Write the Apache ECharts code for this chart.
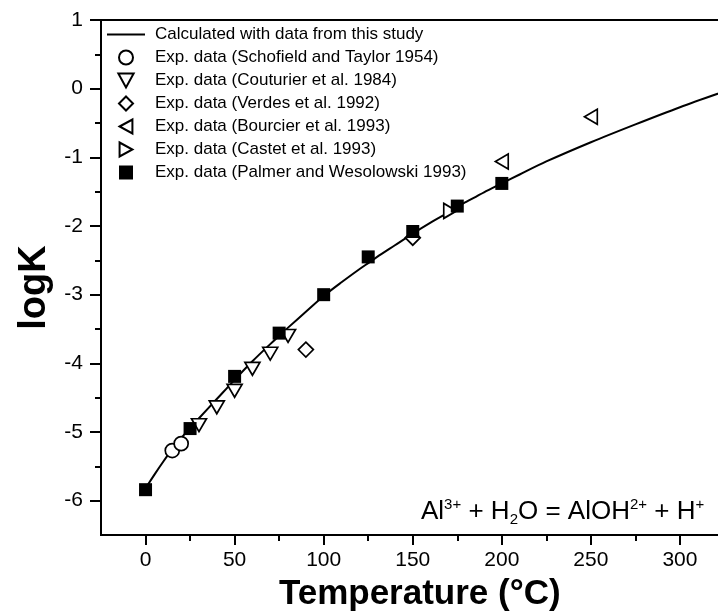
<!DOCTYPE html>
<html>
<head>
<meta charset="utf-8">
<script src="https://cdn.jsdelivr.net/npm/echarts@6/dist/echarts.min.js"></script>
<style>
html,body{margin:0;padding:0;background:#fff;}
#chart{width:718px;height:612px;}
</style>
</head>
<body>
<div id="chart"></div>
<script>
// ---- data ----
const xTickValues = [0, 50, 100, 150, 200, 250, 300];
const xMinorTicks = [25, 75, 125, 175, 225, 275];
const yTickValues = [-6, -5, -4, -3, -2, -1, 0, 1];
const yMinorTicks = [-5.5, -4.5, -3.5, -2.5, -1.5, -0.5, 0.5];

const calcT    = [0, 5, 10, 15, 20, 25, 30, 40, 50, 60, 70, 75, 80, 90, 100, 110, 120, 125, 130, 140, 150, 160, 170, 175, 180, 190, 200, 210, 225, 250, 275, 300, 325];
const calcLogK = [-5.82, -5.62, -5.43, -5.25, -5.09, -4.94, -4.80, -4.52, -4.24, -3.97, -3.72, -3.60, -3.48, -3.25, -3.02, -2.82, -2.63, -2.54, -2.45, -2.28, -2.11, -1.95, -1.80, -1.72, -1.65, -1.51, -1.38, -1.25, -1.06, -0.78, -0.52, -0.27, -0.04];

const schofieldT = [15, 20];
const schofieldK = [-5.27, -5.17];
const couturierT = [30, 40, 50, 60, 70, 80];
const couturierK = [-4.90, -4.64, -4.40, -4.08, -3.86, -3.60];
const verdesT = [90, 150];
const verdesK = [-3.80, -2.17];
const bourcierT = [200, 250];
const bourcierK = [-1.06, -0.41];
const castetT = [171];
const castetK = [-1.78];
const palmerT = [0, 25, 50, 75, 100, 125, 150, 175, 200];
const palmerK = [-5.84, -4.95, -4.19, -3.56, -3.00, -2.45, -2.08, -1.71, -1.38];

const names = [
  'Calculated with data from this study',
  'Exp. data (Schofield and Taylor 1954)',
  'Exp. data (Couturier et al. 1984)',
  'Exp. data (Verdes et al. 1992)',
  'Exp. data (Bourcier et al. 1993)',
  'Exp. data (Castet et al. 1993)',
  'Exp. data (Palmer and Wesolowski 1993)'
];

function pairs(xs, ys) { return xs.map((x, i) => [x, ys[i]]); }

const FONT = '"Liberation Sans", Arial, sans-serif';
const openStyle = { color: '#fff', borderColor: '#000', borderWidth: 1.7, opacity: 1 };
const SQUARE = 'path://M0,0 L10,0 L10,10 L0,10 Z';

const chart = echarts.init(document.getElementById('chart'), null, { renderer: 'canvas' });

const option = {
  animation: false,
  backgroundColor: '#fff',
  textStyle: { fontFamily: FONT, color: '#000' },
  grid: {
    left: 101, top: 20, right: -6.5, bottom: 77,
    outerBoundsMode: 'none', containLabel: false,
    show: true, borderColor: '#000', borderWidth: 2, backgroundColor: 'transparent'
  },
  legend: {
    orient: 'vertical',
    left: 102, top: 21,
    itemWidth: 38, itemHeight: 14, itemGap: 6,
    textStyle: { fontSize: 17, fontFamily: FONT, color: '#000', padding: [0, 0, 0, 5] },
    data: [
      { name: names[0], icon: 'path://M0,0 L38,0 L38,2 L0,2 Z', itemStyle: { color: '#000' } },
      names[1], names[2], names[3], names[4], names[5],
      { name: names[6], icon: SQUARE }
    ]
  },
  xAxis: [{
    type: 'value', min: -25, max: 325,
    name: 'Temperature (°C)', nameLocation: 'middle', nameGap: 42,
    nameTextStyle: { fontSize: 35, fontWeight: 'bold', fontFamily: FONT, color: '#000', padding: [0, 0, 0, 14] },
    axisLine: { show: true, onZero: false, lineStyle: { color: '#000', width: 2 } },
    axisTick: { show: true, length: 10, lineStyle: { color: '#000', width: 2 }, customValues: xTickValues },
    axisLabel: { fontSize: 21, fontFamily: FONT, color: '#000', margin: 15, customValues: xTickValues },
    splitLine: { show: false }
  }, {
    type: 'value', min: -25, max: 325, position: 'bottom',
    axisLine: { show: false, onZero: false },
    axisTick: { show: true, length: 6, lineStyle: { color: '#000', width: 2 }, customValues: xMinorTicks },
    axisLabel: { show: false },
    splitLine: { show: false }
  }],
  yAxis: [{
    type: 'value', min: -6.5, max: 1,
    name: 'logK', nameLocation: 'middle', nameGap: 44, nameRotate: 90,
    nameTextStyle: { fontSize: 38, fontWeight: 'bold', fontFamily: FONT, color: '#000', padding: [0, 20, 0, 0] },
    axisLine: { show: true, onZero: false, lineStyle: { color: '#000', width: 2 } },
    axisTick: { show: true, length: 11, lineStyle: { color: '#000', width: 2 }, customValues: yTickValues },
    axisLabel: { fontSize: 21, fontFamily: FONT, color: '#000', margin: 18, customValues: yTickValues },
    splitLine: { show: false }
  }, {
    type: 'value', min: -6.5, max: 1, position: 'left',
    axisLine: { show: false, onZero: false },
    axisTick: { show: true, length: 6, lineStyle: { color: '#000', width: 2 }, customValues: yMinorTicks },
    axisLabel: { show: false },
    splitLine: { show: false }
  }],
  series: [
    {
      name: names[0], type: 'line', data: pairs(calcT, calcLogK), smooth: 0.3,
      symbol: 'none', showSymbol: false, lineStyle: { color: '#000', width: 2 }, itemStyle: { color: '#000' }, z: 1
    },
    {
      name: names[1], type: 'scatter', data: pairs(schofieldT, schofieldK),
      symbol: 'circle', symbolSize: 14, itemStyle: openStyle, z: 2
    },
    {
      name: names[2], type: 'scatter', data: pairs(couturierT, couturierK),
      symbol: 'path://M0,0 L12,0 L6,11 Z', symbolSize: [15, 14], symbolKeepAspect: true, itemStyle: openStyle, z: 2
    },
    {
      name: names[3], type: 'scatter', data: pairs(verdesT, verdesK),
      symbol: 'path://M5,0 L10,5 L5,10 L0,5 Z', symbolSize: 15, itemStyle: openStyle, z: 2
    },
    {
      name: names[4], type: 'scatter', data: pairs(bourcierT, bourcierK),
      symbol: 'path://M0,6 L11,0 L11,12 Z', symbolSize: [14, 15], symbolKeepAspect: true, itemStyle: openStyle, z: 2
    },
    {
      name: names[5], type: 'scatter', data: pairs(castetT, castetK),
      symbol: 'path://M0,0 L11,6 L0,12 Z', symbolSize: [14, 15], symbolKeepAspect: true, itemStyle: openStyle, z: 2
    },
    {
      name: names[6], type: 'scatter', data: pairs(palmerT, palmerK),
      symbol: SQUARE, symbolSize: 13, symbolKeepAspect: true, itemStyle: { color: '#000', opacity: 1 }, z: 3
    }
  ],
  graphic: [{
    type: 'text', left: 421, top: 497, z: 10,
    style: {
      text: '{n|Al}{sup|3+}{n| + H}{sub|2}{n|O = AlOH}{sup|2+}{n| + H}{sup|+}',
      rich: {
        n: { fontSize: 26, fontFamily: FONT, fill: '#000', lineHeight: 30, verticalAlign: 'middle' },
        sup: { fontSize: 15, fontFamily: FONT, fill: '#000', lineHeight: 30, verticalAlign: 'top' },
        sub: { fontSize: 15, fontFamily: FONT, fill: '#000', lineHeight: 30, verticalAlign: 'bottom' }
      }
    }
  }]
};

chart.setOption(option);
</script>
</body>
</html>
